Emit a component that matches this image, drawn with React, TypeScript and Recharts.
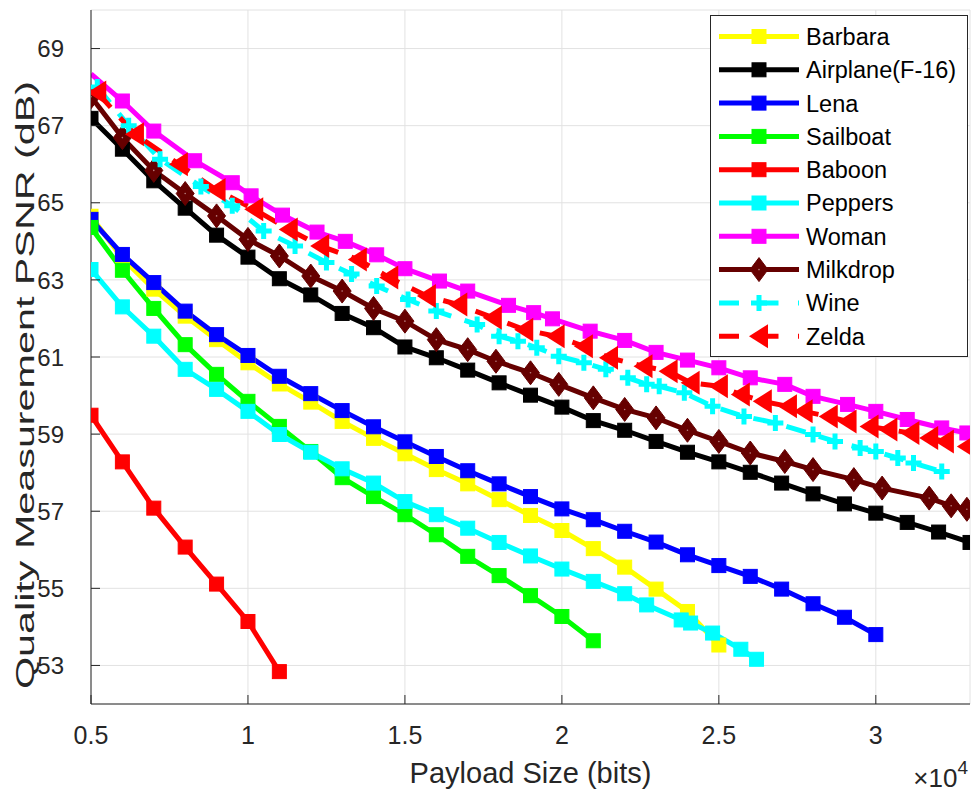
import React from 'react';
import { LineChart, Line, XAxis, YAxis, CartesianGrid, Label } from 'recharts';

const FONT = '"Liberation Sans", Arial, Helvetica, sans-serif';
const AXIS = '#262626';

// x values are in units of 10^4 bits
const xTicks = [0.5, 1, 1.5, 2, 2.5, 3];
const yTicks = [53, 55, 57, 59, 61, 63, 65, 67, 69];

const barbaraX = [0.5, 0.6, 0.7, 0.8, 0.9, 1.0, 1.1, 1.2, 1.3, 1.4, 1.5, 1.6, 1.7, 1.8, 1.9, 2.0, 2.1, 2.2, 2.3, 2.4, 2.5];
const barbaraY = [64.65, 63.56, 62.76, 62.06, 61.45, 60.85, 60.3, 59.83, 59.33, 58.89, 58.49, 58.08, 57.71, 57.3, 56.89, 56.5, 56.03, 55.55, 54.98, 54.4, 53.53];

const airplaneX = [0.5, 0.6, 0.7, 0.8, 0.9, 1.0, 1.1, 1.2, 1.3, 1.4, 1.5, 1.6, 1.7, 1.8, 1.9, 2.0, 2.1, 2.2, 2.3, 2.4, 2.5, 2.6, 2.7, 2.8, 2.9, 3.0, 3.1, 3.2, 3.3];
const airplaneY = [67.19, 66.39, 65.57, 64.86, 64.16, 63.59, 63.03, 62.61, 62.13, 61.76, 61.26, 60.98, 60.66, 60.33, 60.01, 59.7, 59.35, 59.1, 58.81, 58.53, 58.28, 58.01, 57.73, 57.45, 57.19, 56.95, 56.71, 56.46, 56.19];

const lenaX = [0.5, 0.6, 0.7, 0.8, 0.9, 1.0, 1.1, 1.2, 1.3, 1.4, 1.5, 1.6, 1.7, 1.8, 1.9, 2.0, 2.1, 2.2, 2.3, 2.4, 2.5, 2.6, 2.7, 2.8, 2.9, 3.0];
const lenaY = [64.57, 63.66, 62.93, 62.19, 61.58, 61.04, 60.5, 60.05, 59.61, 59.19, 58.8, 58.42, 58.05, 57.71, 57.38, 57.06, 56.78, 56.48, 56.2, 55.87, 55.59, 55.31, 54.98, 54.6, 54.25, 53.8];

const sailboatX = [0.5, 0.6, 0.7, 0.8, 0.9, 1.0, 1.1, 1.2, 1.3, 1.4, 1.5, 1.6, 1.7, 1.8, 1.9, 2.0, 2.1];
const sailboatY = [64.36, 63.25, 62.26, 61.32, 60.55, 59.85, 59.2, 58.55, 57.87, 57.38, 56.91, 56.39, 55.83, 55.33, 54.81, 54.27, 53.64];

const baboonX = [0.5, 0.6, 0.7, 0.8, 0.9, 1.0, 1.1];
const baboonY = [59.49, 58.28, 57.08, 56.07, 55.11, 54.14, 52.84];

const peppersX = [0.5, 0.6, 0.7, 0.8, 0.9, 1.0, 1.1, 1.2, 1.3, 1.4, 1.5, 1.6, 1.7, 1.8, 1.9, 2.0, 2.1, 2.2, 2.27, 2.38, 2.41, 2.48, 2.57, 2.62];
const peppersY = [63.27, 62.3, 61.54, 60.68, 60.16, 59.59, 58.99, 58.53, 58.1, 57.73, 57.25, 56.91, 56.56, 56.19, 55.84, 55.5, 55.18, 54.86, 54.57, 54.18, 54.1, 53.84, 53.42, 53.16];

const womanX = [0.5, 0.6, 0.7, 0.83, 0.95, 1.01, 1.11, 1.22, 1.31, 1.41, 1.5, 1.61, 1.7, 1.83, 1.91, 1.97, 2.09, 2.2, 2.3, 2.4, 2.5, 2.6, 2.71, 2.8, 2.91, 3.0, 3.1, 3.21, 3.29];
const womanY = [68.34, 67.64, 66.86, 66.09, 65.52, 65.18, 64.68, 64.24, 64.0, 63.65, 63.29, 62.97, 62.71, 62.34, 62.15, 61.99, 61.67, 61.43, 61.12, 60.92, 60.72, 60.46, 60.29, 59.98, 59.77, 59.59, 59.38, 59.16, 59.03];

const milkdropX = [0.5, 0.6, 0.7, 0.8, 0.9, 1.0, 1.1, 1.2, 1.3, 1.4, 1.5, 1.6, 1.7, 1.79, 1.9, 1.99, 2.1, 2.2, 2.3, 2.4, 2.5, 2.6, 2.71, 2.8, 2.93, 3.02, 3.17, 3.24, 3.29];
const milkdropY = [67.75, 66.69, 65.84, 65.24, 64.66, 64.05, 63.62, 63.1, 62.71, 62.26, 61.93, 61.45, 61.19, 60.89, 60.59, 60.29, 59.94, 59.64, 59.42, 59.1, 58.81, 58.51, 58.29, 58.08, 57.82, 57.6, 57.34, 57.14, 57.05];

const wineX = [0.52, 0.62, 0.72, 0.85, 0.95, 1.05, 1.15, 1.25, 1.33, 1.41, 1.51, 1.6, 1.73, 1.8, 1.86, 1.92, 1.99, 2.07, 2.14, 2.21, 2.27, 2.31, 2.39, 2.48, 2.58, 2.68, 2.8, 2.87, 2.95, 3.0, 3.07, 3.12, 3.21];
const wineY = [68.0, 67.0, 66.13, 65.42, 64.92, 64.27, 63.88, 63.45, 63.15, 62.84, 62.49, 62.19, 61.84, 61.54, 61.41, 61.24, 61.02, 60.85, 60.68, 60.46, 60.29, 60.24, 60.07, 59.72, 59.46, 59.29, 58.99, 58.81, 58.64, 58.55, 58.38, 58.25, 58.03];

const zeldaX = [0.52, 0.64, 0.78, 0.9, 1.02, 1.13, 1.23, 1.35, 1.45, 1.57, 1.67, 1.78, 1.88, 1.98, 2.07, 2.15, 2.26, 2.34, 2.41, 2.5, 2.57, 2.64, 2.72, 2.77, 2.85, 2.91, 2.98, 3.04, 3.11, 3.17, 3.22, 3.29];
const zeldaY = [67.86, 66.78, 66.0, 65.33, 64.83, 64.31, 63.88, 63.53, 63.06, 62.58, 62.36, 62.02, 61.71, 61.54, 61.28, 60.98, 60.76, 60.63, 60.33, 60.24, 60.03, 59.85, 59.72, 59.59, 59.46, 59.33, 59.2, 59.12, 59.03, 58.9, 58.81, 58.68];

type MarkerType = 'square' | 'diamond' | 'plus' | 'triangle';
interface Series {
  name: string;
  color: string;
  xs: number[];
  ys: number[];
  marker: MarkerType;
  dash?: string;
  hideFirst?: boolean;
}

const series: Series[] = [
  { name: 'Barbara', color: '#ffff00', xs: barbaraX, ys: barbaraY, marker: 'square' },
  { name: 'Airplane(F-16)', color: '#000000', xs: airplaneX, ys: airplaneY, marker: 'square' },
  { name: 'Lena', color: '#0000ff', xs: lenaX, ys: lenaY, marker: 'square' },
  { name: 'Sailboat', color: '#00ff00', xs: sailboatX, ys: sailboatY, marker: 'square' },
  { name: 'Baboon', color: '#ff0000', xs: baboonX, ys: baboonY, marker: 'square' },
  { name: 'Peppers', color: '#00ffff', xs: peppersX, ys: peppersY, marker: 'square' },
  { name: 'Woman', color: '#ff00ff', xs: womanX, ys: womanY, marker: 'square', hideFirst: true },
  { name: 'Milkdrop', color: '#660000', xs: milkdropX, ys: milkdropY, marker: 'diamond' },
  { name: 'Wine', color: '#00ffff', xs: wineX, ys: wineY, marker: 'plus', dash: '20 14' },
  { name: 'Zelda', color: '#ff0000', xs: zeldaX, ys: zeldaY, marker: 'triangle', dash: '20 14' },
];

const toPoints = (xs: number[], ys: number[]) => xs.map((x, i) => ({ x, y: ys[i] }));

function Marker({ type, cx, cy, color }: { type: MarkerType; cx: number; cy: number; color: string }) {
  if (cx == null || cy == null) return null;
  switch (type) {
    case 'square':
      return <rect x={cx - 7} y={cy - 7} width={14} height={14} fill={color} stroke={color} strokeWidth={1} />;
    case 'diamond':
      return (
        <g>
          <polygon
            points={`${cx},${cy - 12} ${cx + 9},${cy} ${cx},${cy + 12} ${cx - 9},${cy}`}
            fill={color}
            stroke={color}
            strokeWidth={1}
          />
          <circle cx={cx} cy={cy} r={0.8} fill="#b98080" />
        </g>
      );
    case 'plus':
      return (
        <path
          d={`M${cx - 8},${cy}H${cx + 8}M${cx},${cy - 8}V${cy + 8}`}
          stroke={color}
          strokeWidth={5}
          fill="none"
        />
      );
    case 'triangle':
      return <polygon points={`${cx - 10},${cy} ${cx + 9},${cy - 12} ${cx + 9},${cy + 12}`} fill={color} />;
    default:
      return null;
  }
}

const LeftTick = (props: any) => {
  const { x, y, payload } = props;
  return (
    <g>
      <line x1={x} x2={x + 9} y1={y} y2={y} stroke={AXIS} strokeWidth={1} />
      <text x={x - 27} y={y} dy="0.36em" textAnchor="end" fontSize={24} fill={AXIS} fontFamily={FONT}>
        {payload.value}
      </text>
    </g>
  );
};

const BottomTick = (props: any) => {
  const { x, y, payload } = props;
  return (
    <g>
      <line x1={x} x2={x} y1={y} y2={y - 9} stroke={AXIS} strokeWidth={1} />
      <text x={x} y={y + 40} textAnchor="middle" fontSize={25} fill={AXIS} fontFamily={FONT}>
        {String(payload.value)}
      </text>
    </g>
  );
};

const TopTick = (props: any) => {
  const { x, y } = props;
  return <line x1={x} x2={x} y1={y} y2={y + 9} stroke={AXIS} strokeWidth={1} />;
};

const RightTick = (props: any) => {
  const { x, y } = props;
  return <line x1={x} x2={x - 9} y1={y} y2={y} stroke={AXIS} strokeWidth={1} />;
};

const XLabelContent = (props: any) => {
  const vb = props.viewBox || {};
  const { x = 0, y = 0, width = 0 } = vb;
  return (
    <g>
      <text x={x + width / 2} y={y + 79} textAnchor="middle" fontSize={29} fill={AXIS} fontFamily={FONT}>
        Payload Size (bits)
      </text>
      <text x={x + width - 2} y={y + 83} textAnchor="end" fontSize={26} fill={AXIS} fontFamily={FONT}>
        ×10
        <tspan dy={-13} fontSize={19}>
          4
        </tspan>
      </text>
    </g>
  );
};

const YLabelContent = (props: any) => {
  const vb = props.viewBox || {};
  const { y = 0, height = 0 } = vb;
  const cx = 25;
  const cy = y + height / 2 + 28;
  return (
    <text
      x={cx}
      y={cy}
      transform={`rotate(-90 ${cx} ${cy})`}
      textAnchor="middle"
      dy="0.36em"
      fontSize={25}
      fill={AXIS}
      fontFamily={FONT}
      textLength={608}
      lengthAdjust="spacingAndGlyphs"
    >
      Quality Measurement PSNR (dB)
    </text>
  );
};

function LegendBox() {
  const rowH = 33.3;
  return (
    <svg
      width={260}
      height={344}
      style={{ position: 'absolute', left: 709, top: 14 }}
    >
      <rect x={1.5} y={1.5} width={257} height={341} fill="#ffffff" stroke={AXIS} strokeWidth={1} />
      {series.map((s, i) => {
        const cy = 22.5 + rowH * i;
        return (
          <g key={s.name}>
            <line
              x1={10}
              x2={90}
              y1={cy}
              y2={cy}
              stroke={s.color}
              strokeWidth={5}
              strokeDasharray={s.dash ? '20 19.5' : undefined}
            />
            <Marker type={s.marker} cx={50} cy={cy} color={s.color} />
            <text x={97} y={cy} dy="0.36em" fontSize={23.5} fill="#000000" fontFamily={FONT}>
              {s.name}
            </text>
          </g>
        );
      })}
    </svg>
  );
}

export default function App() {
  return (
    <div style={{ position: 'absolute', left: 0, top: 0, width: 973, height: 792, background: '#ffffff' }}>
      <LineChart width={973} height={792} margin={{ top: 10, right: 3, bottom: 0, left: 0 }}>
        <CartesianGrid stroke="#e2e2e2" strokeWidth={1} />
        <XAxis
          xAxisId={0}
          dataKey="x"
          type="number"
          domain={[0.5, 3.3]}
          ticks={xTicks}
          height={88}
          tickSize={0}
          tickMargin={0}
          tickLine={false}
          tick={BottomTick}
          axisLine={{ stroke: AXIS, strokeWidth: 1 }}
          allowDataOverflow
        >
          <Label content={XLabelContent} />
        </XAxis>
        <XAxis
          xAxisId="top"
          orientation="top"
          dataKey="x"
          type="number"
          domain={[0.5, 3.3]}
          ticks={xTicks}
          height={0}
          tickSize={0}
          tickMargin={0}
          tickLine={false}
          tick={TopTick}
          axisLine={{ stroke: AXIS, strokeWidth: 1 }}
          allowDataOverflow
        />
        <YAxis
          yAxisId={0}
          type="number"
          domain={[52, 70]}
          ticks={yTicks}
          width={91}
          tickSize={0}
          tickMargin={0}
          tickLine={false}
          tick={LeftTick}
          axisLine={{ stroke: AXIS, strokeWidth: 1 }}
          allowDataOverflow
        >
          <Label content={YLabelContent} />
        </YAxis>
        <YAxis
          yAxisId="right"
          orientation="right"
          type="number"
          domain={[52, 70]}
          ticks={yTicks}
          width={0}
          tickSize={0}
          tickMargin={0}
          tickLine={false}
          tick={RightTick}
          axisLine={{ stroke: AXIS, strokeWidth: 1 }}
          allowDataOverflow
        />
        {series.map((s) => (
          <Line
            key={s.name}
            xAxisId={0}
            yAxisId={0}
            data={toPoints(s.xs, s.ys)}
            dataKey="y"
            name={s.name}
            type="linear"
            stroke={s.color}
            strokeWidth={5}
            strokeDasharray={s.dash}
            isAnimationActive={false}
            activeDot={false}
            dot={(p: any) =>
              s.hideFirst && p.index === 0 ? (
                <g key={`d-${s.name}-${p.index}`} />
              ) : (
                <g key={`d-${s.name}-${p.index}`}>
                  <Marker type={s.marker} cx={p.cx} cy={p.cy} color={s.color} />
                </g>
              )
            }
          />
        ))}
      </LineChart>
      <LegendBox />
    </div>
  );
}
